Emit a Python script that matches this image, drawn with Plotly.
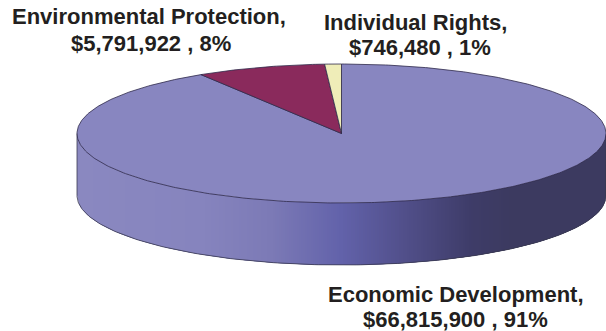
import numpy as np
import plotly.graph_objects as go

# Funding by area
categories = ["Economic Development", "Environmental Protection", "Individual Rights"]
amounts = [66815900, 5791922, 746480]
percents = [91, 8, 1]
slice_colors = ["#8886c0", "#8a2a5c", "#efedb8"]

# Label anchors: name line then amount line
name_x = [456, 148.5, 415]
name_y = [294, 16, 22]
value_x = [455.5, 151, 420]
value_y = [319, 43.5, 47.5]

# Tilted disc geometry, in page pixels
CX, CY, RX, RY, DEPTH = 341.5, 133.5, 264.5, 69.5, 62

# Wall shading from the left rim to the right rim
wall_x = [77, 200, 270, 340, 400, 470, 510, 606]
wall_r = [138, 134, 124, 98, 82, 62, 60, 60]
wall_g = [136, 132, 122, 98, 80, 60, 58, 58]
wall_b = [192, 190, 182, 170, 140, 104, 96, 96]


def rim(theta):
    """Point on the top ellipse; theta is clockwise from twelve o'clock."""
    return CX + RX * np.sin(theta), CY - RY * np.cos(theta)


fig = go.Figure()

# Side wall: overlapping strips painted left to right, so no seams appear
columns = np.arange(CX - RX, CX + RX, 2.0)
for left in columns:
    right = min(left + 8, CX + RX)
    xs = np.linspace(left, right, 5)
    front = CY + RY * np.sqrt(np.clip(1 - ((xs - CX) / RX) ** 2, 0, 1))
    color = "rgb({:.0f},{:.0f},{:.0f})".format(
        np.interp(left, wall_x, wall_r),
        np.interp(left, wall_x, wall_g),
        np.interp(left, wall_x, wall_b),
    )
    fig.add_trace(go.Scatter(x=np.r_[xs, xs[::-1]], y=np.r_[front, (front + DEPTH)[::-1]],
                             mode="lines", fill="toself", fillcolor=color,
                             line=dict(width=0), hoverinfo="skip", showlegend=False))

# Lower outline of the wall
ts = np.linspace(np.pi / 2, 3 * np.pi / 2, 200)
x, y = rim(ts)
fig.add_trace(go.Scatter(x=np.r_[x[0], x, x[-1]], y=np.r_[y[0], y + DEPTH, y[-1]], mode="lines",
                         line=dict(color="#3a3a50", width=0.8), hoverinfo="skip", showlegend=False))

# Top face: slices run clockwise from twelve o'clock
total = sum(amounts)
start = 0.0
for name, amount, color in zip(categories, amounts, slice_colors):
    sweep = 2 * np.pi * amount / total
    ts = np.linspace(start, start + sweep, max(int(sweep * 90), 3))
    x, y = rim(ts)
    fig.add_trace(go.Scatter(x=np.r_[CX, x, CX], y=np.r_[CY, y, CY], mode="lines", fill="toself",
                             fillcolor=color, line=dict(color="#2e2a4a", width=0.8),
                             name=name, hoverinfo="name", showlegend=False))
    start += sweep

# Value labels
label_font = dict(family="Liberation Sans", size=22, color="#231f20")
for name, amount, pct, nx, ny, vx, vy in zip(categories, amounts, percents,
                                             name_x, name_y, value_x, value_y):
    fig.add_annotation(x=nx, y=ny, text=f"<b>{name},</b>", showarrow=False, font=label_font,
                       xanchor="center", yanchor="middle")
    fig.add_annotation(x=vx, y=vy, text=f"<b>${amount:,} , {pct}%</b>", showarrow=False,
                       font=label_font, xanchor="center", yanchor="middle")

fig.update_layout(
    width=606, height=331, margin=dict(l=0, r=0, t=0, b=0),
    paper_bgcolor="white", plot_bgcolor="white", showlegend=False,
    xaxis=dict(range=[0, 606], visible=False, fixedrange=True),
    yaxis=dict(range=[331, 0], visible=False, fixedrange=True),
)
fig.write_html("out.html", config={"displayModeBar": False})
